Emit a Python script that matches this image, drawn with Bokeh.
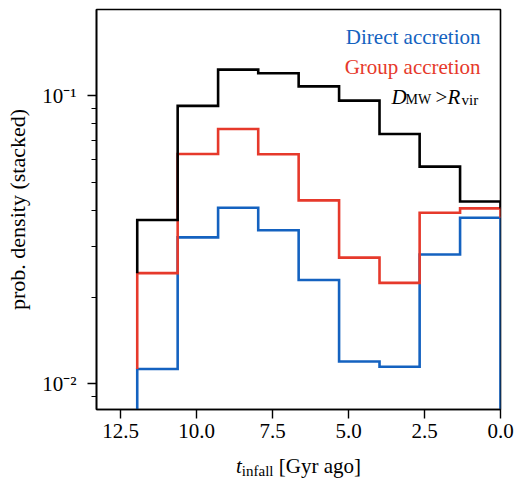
from bokeh.plotting import figure
from bokeh.layouts import column
from bokeh.models import Range1d, FixedTicker, Label, NumeralTickFormatter, CustomJSTickFormatter, Div
from bokeh.embed import file_html
from bokeh.resources import INLINE

# ---- data ----
bin_edges = [11.95, 10.62, 9.29, 7.97, 6.64, 5.31, 3.98, 2.66, 1.33, 0.0]
direct = [0.01125, 0.0322, 0.0408, 0.0341, 0.0229, 0.01195, 0.01146, 0.0281, 0.0377]
direct_plus_group = [0.0242, 0.0627, 0.0766, 0.0626, 0.0433, 0.0274, 0.0224, 0.0392, 0.0406]
total = [0.0370, 0.0921, 0.1231, 0.1195, 0.1077, 0.0961, 0.0736, 0.0567, 0.0429]
floor_level = [1e-5] * 9

x_ticks = [12.5, 10.0, 7.5, 5.0, 2.5, 0.0]
y_major = [0.01, 0.1]
y_minor = [0.009, 0.02, 0.03, 0.04, 0.05, 0.06, 0.07, 0.08, 0.09]

BLUE = "#1462c0"
RED = "#e6392b"
FONT = "Liberation Serif"


def outline(edges, tops, bottoms):
    xs = [edges[0]]
    ys = [bottoms[0]]
    for i, t in enumerate(tops):
        xs += [edges[i], edges[i + 1]]
        ys += [t, t]
    xs.append(edges[-1])
    ys.append(bottoms[-1])
    return xs, ys


p = figure(width=516, height=452, output_backend="svg", toolbar_location=None,
           x_range=Range1d(13.29, 0.0), y_range=Range1d(0.00814, 0.199),
           y_axis_type="log",
           min_border_left=96, min_border_right=16, min_border_top=9, min_border_bottom=43)

p.xgrid.visible = False
p.ygrid.visible = False
p.background_fill_color = "white"
p.border_fill_color = "white"
p.outline_line_color = "black"
p.outline_line_width = 1.6
p.outline_line_alpha = 1.0

for tops, bottoms, color in [(direct, floor_level, BLUE),
                             (direct_plus_group, direct, RED),
                             (total, direct_plus_group, "black")]:
    xs, ys = outline(bin_edges, tops, bottoms)
    p.line(xs, ys, line_color=color, line_width=2.6, line_join="miter")

# axes
p.xaxis.ticker = FixedTicker(ticks=x_ticks)
p.xaxis.formatter = NumeralTickFormatter(format="0.0")
p.yaxis.ticker = FixedTicker(ticks=y_major, minor_ticks=y_minor)
p.yaxis.formatter = CustomJSTickFormatter(code="return tick < 0.05 ? '10\u207b\u00b2' : '10\u207b\u00b9';")

for ax in (p.xaxis[0], p.yaxis[0]):
    ax.axis_line_color = "black"
    ax.axis_line_width = 1.6
    ax.major_tick_line_color = "black"
    ax.major_tick_line_width = 1.4
    ax.major_tick_in = 0
    ax.major_tick_out = 9
    ax.minor_tick_line_color = "black"
    ax.minor_tick_line_width = 1.1
    ax.minor_tick_in = 0
    ax.minor_tick_out = 5
    ax.major_label_text_font = FONT
    ax.major_label_text_font_size = "21px"
    ax.major_label_text_color = "black"

p.xaxis.minor_tick_line_color = None
p.xaxis.major_label_standoff = 5
p.yaxis.major_label_standoff = 11
p.yaxis.axis_label = "prob. density (stacked)"
p.yaxis.axis_label_text_font = FONT
p.yaxis.axis_label_text_font_size = "22px"
p.yaxis.axis_label_text_font_style = "normal"
p.yaxis.axis_label_text_color = "black"
p.yaxis.axis_label_standoff = 9


def lab(text, x, y, size="21px", color="black", style="normal", align="left"):
    p.add_layout(Label(x=x, y=y, x_units="screen", y_units="screen", text=text,
                       text_font=FONT, text_font_size=size, text_color=color,
                       text_font_style=style, text_align=align,
                       text_baseline="alphabetic"))


# legend-like texts
lab("Direct accretion", 384, 373, color=BLUE, align="right")
lab("Group accretion", 384, 343, color=RED, align="right")
lab("D", 295, 313, style="italic")
lab("MW", 309, 310, size="14px")
lab(">", 339, 313)
lab("R", 351, 313, style="italic")
lab("vir", 365, 310, size="15px")

# x axis label (mixed italic / subscript text), as real HTML text below the plot
xlabel = Div(
    text=('<div style="font-family:\'Liberation Serif\'; font-size:21px; line-height:21px; '
          'color:black; white-space:nowrap; padding-left:236px; padding-top:4px;">'
          '<i>t</i><span style="font-size:15px; position:relative; top:3px;">infall</span>'
          ' [Gyr ago]</div>'),
    width=516, height=29, margin=(0, 0, 0, 0))

layout = column(p, xlabel, spacing=0)
open("out.html", "w").write(file_html(layout, INLINE))
